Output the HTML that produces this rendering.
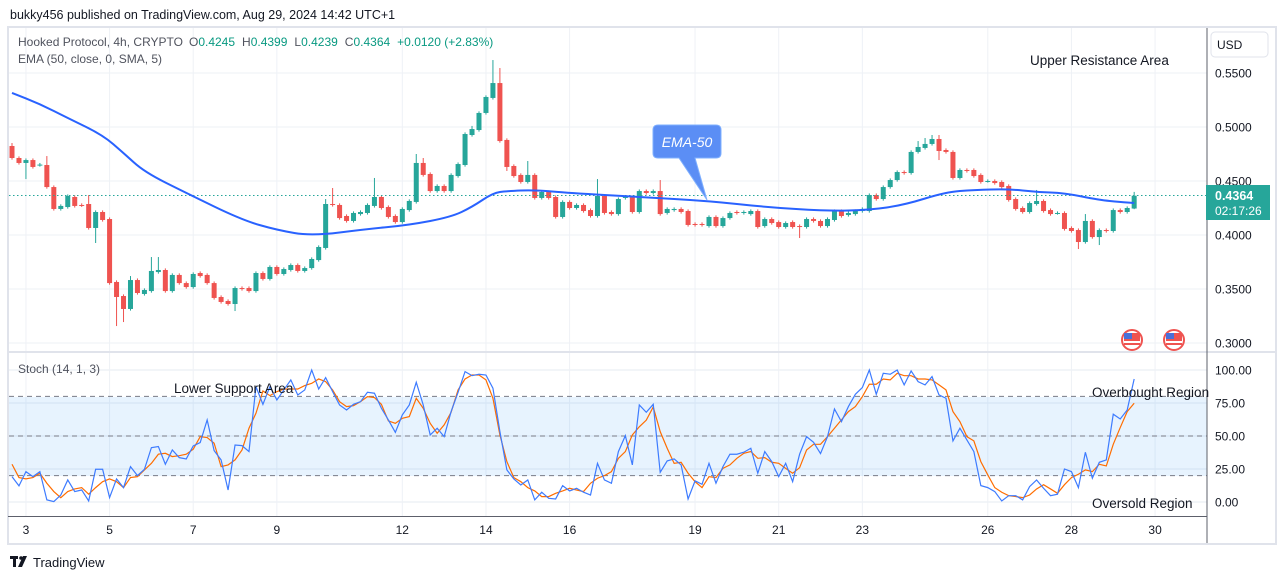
<!DOCTYPE html>
<html><head><meta charset="utf-8"><style>
html,body{margin:0;padding:0;background:#fff;width:1281px;height:579px;overflow:hidden}
svg{display:block;font-family:"Liberation Sans",sans-serif}
</style></head><body>
<svg id="c" width="1281" height="579" viewBox="0 0 1281 579" xmlns="http://www.w3.org/2000/svg">
<rect x="0" y="0" width="1281" height="579" fill="#fff"/>
<text x="10" y="19" font-size="12.5" fill="#131722">bukky456 published on TradingView.com, Aug 29, 2024 14:42 UTC+1</text>
<rect x="8" y="27" width="1268" height="517" fill="none" stroke="#e0e3eb" stroke-width="2"/>
<g id="grid"></g>
<rect x="9" y="397" width="1198" height="79" fill="#2196f3" fill-opacity="0.11"/>
<g id="stochlines"></g>
<line x1="8" y1="352" x2="1276" y2="352" stroke="#e0e3eb" stroke-width="2"/>
<line x1="1207" y1="28" x2="1207" y2="543" stroke="#5d606b" stroke-width="1"/>
<line x1="8" y1="516.5" x2="1207" y2="516.5" stroke="#5d606b" stroke-width="1"/>
<g id="candles"></g>
<line x1="9" y1="195.5" x2="1207" y2="195.5" stroke="#26a69a" stroke-width="1" stroke-dasharray="1.5,2.5"/>
<path id="ema" fill="none" stroke="#2962ff" stroke-width="2"/>
<polyline id="stochD" fill="none" stroke="#ff6d00" stroke-width="1.2"/>
<polyline id="stochK" fill="none" stroke="#3d7bff" stroke-width="1.2"/>
<g id="axes"></g>
<text x="18" y="46" font-size="12" fill="#131722"><tspan fill="#50535e">Hooked Protocol, 4h, CRYPTO</tspan><tspan fill="#50535e" dx="6">O</tspan><tspan fill="#089981">0.4245</tspan><tspan fill="#50535e" dx="7">H</tspan><tspan fill="#089981">0.4399</tspan><tspan fill="#50535e" dx="7">L</tspan><tspan fill="#089981">0.4239</tspan><tspan fill="#50535e" dx="7">C</tspan><tspan fill="#089981">0.4364</tspan><tspan fill="#089981" dx="7">+0.0120 (+2.83%)</tspan></text>
<text x="18" y="63" font-size="12" fill="#50535e">EMA (50, close, 0, SMA, 5)</text>
<text x="18" y="373" font-size="12" fill="#50535e">Stoch (14, 1, 3)</text>
<rect x="1211" y="32" width="57" height="25" rx="4" fill="#fff" stroke="#e0e3eb"/>
<text x="1217" y="49" font-size="12" fill="#131722">USD</text>
<text x="1030" y="65" font-size="13.5" fill="#131722">Upper Resistance Area</text>
<text x="174" y="393" font-size="13.5" fill="#131722">Lower Support Area</text>
<text x="1092" y="397" font-size="13.5" fill="#131722">Overbought Region</text>
<text x="1092" y="508" font-size="13.5" fill="#131722">Oversold Region</text>
<g>
<path d="M658,125 H716 Q721,125 721,130 V153 Q721,158 716,158 H695 L707,200 L679,158 H658 Q653,158 653,153 V130 Q653,125 658,125 Z" fill="#5b8ef5" stroke="#7fb0ff" stroke-width="1"/>
<text x="687" y="147" font-size="14" font-style="italic" fill="#fff" text-anchor="middle">EMA-50</text>
</g>
<g><circle cx="1132" cy="340" r="10" fill="#fff" stroke="#ef5350" stroke-width="2"/><rect x="1124" y="333" width="16" height="12" fill="#ef5350"/><rect x="1124" y="333" width="8" height="6" fill="#4a6fd8"/><rect x="1124" y="341" width="16" height="2" fill="#fff"/></g>
<g><circle cx="1174" cy="340" r="10" fill="#fff" stroke="#ef5350" stroke-width="2"/><rect x="1166" y="333" width="16" height="12" fill="#ef5350"/><rect x="1166" y="333" width="8" height="6" fill="#4a6fd8"/><rect x="1166" y="341" width="16" height="2" fill="#fff"/></g>
<rect x="1206" y="185" width="64" height="35" fill="#26a69a"/>
<text x="1215" y="200" font-size="12.5" font-weight="bold" fill="#fff">0.4364</text>
<text x="1215" y="215" font-size="12" fill="#fff">02:17:26</text>
<g><rect x="10" y="556" width="8" height="3" fill="#131722"/><rect x="13" y="556" width="3" height="11" fill="#131722"/><circle cx="21" cy="558" r="1.8" fill="#131722"/><path d="M23,556 H27 L22,567 H18 Z" fill="#131722"/></g>
<text x="33" y="567" font-size="13" fill="#131722">TradingView</text>
</svg>
<script>
const opens=[.4824,.4713,.4667,.4694,.4648,.4648,.4444,.4241,.4259,.4352,
.4278,.4287,.4065,.4213,.4148,.3565,.3435,.3315,.3583,.3454,
.3481,.3657,.3676,.3481,.3630,.3555,.3518,.3648,.3630,.3555,
.3426,.3389,.3361,.3509,.3509,.3481,.3648,.3593,.3704,.3639,
.3676,.3722,.3667,.3694,.3768,.3880,.4287,.4278,.4176,.4130,
.4194,.4204,.4269,.4352,.4259,.4176,.4120,.4231,.4306,.4667,
.4565,.4407,.4454,.4407,.4546,.4648,.4926,.4972,.5130,.5269,
.5407,.4880,.4639,.4556,.4491,.4556,.4343,.4398,.4352,.4167,
.4306,.4250,.4278,.4231,.4176,.4361,.4213,.4194,.4343,.4352,
.4213,.4407,.4389,.4407,.4204,.4231,.4241,.4222,.4102,.4102,
.4083,.4167,.4083,.4157,.4213,.4204,.4194,.4222,.4083,.4148,
.4120,.4074,.4120,.4083,.4074,.4148,.4130,.4083,.4139,.4222,
.4185,.4194,.4222,.4222,.4370,.4333,.4444,.4509,.4583,.4574,
.4769,.4806,.4843,.4889,.4787,.4769,.4528,.4602,.4602,.4556,
.4500,.4500,.4491,.4454,.4333,.4250,.4213,.4287,.4315,.4231,
.4204,.4204,.4065,.4046,.3935,.4130,.3981,.4046,.4037,.4231,
.4213,.4245];
const closes=[.4713,.4667,.4694,.4630,.4652,.4444,.4241,.4269,.4361,.4269,
.4275,.4065,.4213,.4139,.3555,.3426,.3315,.3583,.3463,.3491,
.3667,.3676,.3481,.3630,.3555,.3518,.3639,.3620,.3555,.3417,
.3380,.3361,.3509,.3500,.3481,.3648,.3593,.3704,.3639,.3685,
.3722,.3667,.3694,.3778,.3889,.4287,.4278,.4157,.4130,.4204,
.4213,.4278,.4352,.4250,.4167,.4120,.4241,.4315,.4667,.4556,
.4407,.4454,.4407,.4556,.4657,.4935,.4981,.5130,.5278,.5407,
.4870,.4630,.4546,.4491,.4556,.4343,.4398,.4343,.4167,.4306,
.4250,.4278,.4222,.4176,.4361,.4204,.4194,.4333,.4352,.4213,
.4407,.4389,.4407,.4194,.4241,.4241,.4213,.4093,.4093,.4093,
.4167,.4083,.4157,.4204,.4204,.4213,.4222,.4074,.4148,.4111,
.4074,.4111,.4074,.4074,.4148,.4130,.4083,.4148,.4222,.4176,
.4204,.4222,.4241,.4370,.4333,.4444,.4509,.4583,.4574,.4769,
.4815,.4843,.4889,.4778,.4769,.4528,.4602,.4593,.4546,.4491,
.4500,.4481,.4444,.4324,.4241,.4213,.4296,.4315,.4222,.4194,
.4204,.4056,.4037,.3935,.4130,.3981,.4046,.4037,.4231,.4213,
.4250,.4364];
const highs={0:.4852,5:.4731,11:.4370,17:.3620,20:.3796,21:.3796,45:.4333,46:.4435,52:.4528,58:.4750,59:.4713,66:.5010,69:.5620,70:.5546,74:.4685,84:.4518,93:.4509,130:.4870,131:.4898,132:.4926,133:.4926,147:.4417,154:.4194,161:.4399};
const lows={2:.4518,12:.3926,15:.3157,16:.3194,32:.3296,71:.4593,113:.3972,133:.4694,153:.3870,156:.3907,161:.4239};
const emaIdx=[0,4,8,13,16,19,25,33,38,43,51,57,63,66,69,71,75,80,90,100,108,117,123,128,134,138,143,147,151,156,159,161];
const emaVals=[.5315,.5213,.5083,.4926,.4759,.4583,.4389,.4139,.4046,.3991,.4056,.4093,.4167,.4259,.4389,.4407,.4417,.4389,.4352,.4315,.4259,.4222,.4231,.4278,.4398,.4417,.4426,.4398,.4389,.4324,.4306,.4296];
const stochK=[19.2,12.2,23,19.2,23,1.6,0.3,5.3,16.7,7.9,
9.1,0.8,24.8,24.8,3.3,17.5,10.9,26.8,20,24.8,
41.2,42,28.6,39.4,33.6,32.6,42.5,45,62.2,38.9,
31.9,9.1,43.2,42.7,38.2,87.4,74,87.4,77.3,84.9,
92.5,81.1,84.9,100,85.6,94.2,83.6,73.5,69.7,74,
76,83.1,82.4,71,62.2,52.8,66,73.5,90.7,73.5,
50.8,55.9,49.5,68.5,83.1,98.8,95.7,96.8,96.2,86.2,
53.3,24.3,17.5,12.9,16.7,1.6,7.4,2.8,2.3,12.4,
8.4,10.4,7.4,5.3,29.3,16.7,14.2,38.2,50.3,28.1,
73.5,68,74,22.5,31.1,32.6,28.1,2.3,16,13.4,
29.3,14.2,26.8,36.2,36.2,37.7,40.7,21.8,38.2,30.6,
19.2,29.3,15.4,36.2,49.5,45.2,36.7,49.5,70.5,60.9,
72.3,81.6,86.7,100,81.6,97.5,96.8,100,88.7,99.3,
91.2,88.7,95,81.1,78.6,46.3,55.9,47,38.2,12.4,
10.9,7.9,0.8,4.8,4.8,1.6,11.7,16.7,10.4,4.8,
5.9,25,23,10.9,37.7,18,30.1,31.9,66.5,62.9,
69.7,93.2];
const stochD=[28.6,18.5,17.5,18.5,21.8,14.2,7.9,3.3,7.9,9.9,
10.9,5.9,10.9,15.4,17.5,15.4,10.9,18.5,19.2,24.3,
29.3,36.2,36.9,34.4,35.1,36.2,40,49.5,48.8,44.5,
26.8,28.1,31.9,39.4,55.9,67.2,84.1,80.6,83.6,85.6,
85.6,85.6,88.2,89.9,93.2,91.2,84.9,76,72.3,73,
76,79.8,79.1,74,61.4,59.6,63.4,64.7,78.6,71,
59.6,52.1,58.4,68,84.9,93.2,96.2,96.2,92.5,78.6,
50.8,30.6,18.5,15.4,10.9,8.4,4.1,4.1,6.6,8.4,
10.4,9.1,7.9,14.2,18,20,23,33.1,38.2,50.8,
57,62,72,53.3,40.7,29.3,30.1,21.8,15.4,10.9,
19.2,18.5,25.5,28.1,33.1,36.9,38.2,33.1,33.6,30.1,
29.3,25.5,21.8,26,39.4,43.7,43.7,49.5,55.9,62.2,
68.5,72.3,79.8,89.2,89.2,93.2,92.5,97.5,95.7,95.7,
93.2,93.2,92.5,88.7,84.9,68.5,60.9,49.5,46.3,30.6,
20.5,10.9,7.4,4.8,4.1,3.3,5.3,9.9,13.1,9.9,
6.6,13.1,18.5,21,24.3,23,28.6,27.3,43.7,56.4,
68.5,74.8];
const priceTicks=[0.55,0.50,0.45,0.40,0.35,0.30];
const stochTicks=[100,75,50,25,0];
const dayLabels=["3","5","7","9","12","14","16","19","21","23","26","28","30"];
const dayIdx=[2,14,26,38,56,68,80,98,110,122,140,152,164];

const NS="http://www.w3.org/2000/svg";
const xOf=i=>12+i*6.97;
const yP=p=>73+(0.55-p)*1080;
const yS=v=>502-v*1.32;
function mk(tag,attrs,parent){const e=document.createElementNS(NS,tag);for(const k in attrs)e.setAttribute(k,attrs[k]);parent.appendChild(e);return e;}

const grid=document.getElementById('grid');
priceTicks.forEach(p=>{
  const l=mk('line',{x1:9,x2:1207,y1:yP(p),y2:yP(p),stroke:'#eef1f6','stroke-width':1},grid);
  
  
});
stochTicks.forEach(v=>{
  const l=mk('line',{x1:9,x2:1207,y1:yS(v),y2:yS(v),stroke:'#e6ebf2','stroke-width':1},grid);
  
  
});
dayIdx.forEach(i=>{
  const x=xOf(i);
  const l=mk('line',{x1:x,x2:x,y1:28,y2:516,stroke:'#eef1f6','stroke-width':1},grid);
  
  
});

const sl=document.getElementById('stochlines');
[80,50,20].forEach(v=>{
  const l=mk('line',{x1:9,x2:1207,y1:yS(v),y2:yS(v),stroke:'#787b86','stroke-width':1,'stroke-dasharray':'5,4'},sl);
  
  
});

const cg=document.getElementById('candles');
const n=Math.min(opens.length,closes.length);
for(let i=0;i<n;i++){
  const o=opens[i],c=closes[i];
  const up=c>=o;
  const col=up?'#26a69a':'#ef5350';
  const hi=highs[i]!==undefined?highs[i]:Math.max(o,c)+0.0015;
  const lo=lows[i]!==undefined?lows[i]:Math.min(o,c)-0.0015;
  const x=xOf(i);
  const g=mk('g',{},cg);
  
  
  mk('line',{x1:x,x2:x,y1:yP(hi),y2:yP(lo),stroke:col,'stroke-width':1},g);
  const top=yP(Math.max(o,c)),bot=yP(Math.min(o,c));
  mk('rect',{x:x-2.5,y:top,width:5,height:Math.max(1,bot-top),fill:col},g);
}

let d='';
emaIdx.forEach((i,k)=>{
  const x=xOf(i),y=yP(emaVals[k]);
  if(k===0){d='M'+x+','+y;}
  else{const px=xOf(emaIdx[k-1]),py=yP(emaVals[k-1]);d+=' Q'+px+','+py+' '+((px+x)/2)+','+((py+y)/2);}
});
d+=' L'+xOf(emaIdx[emaIdx.length-1])+','+yP(emaVals[emaVals.length-1]);
document.getElementById('ema').setAttribute('d',d);

document.getElementById('stochK').setAttribute('points',stochK.map((v,i)=>xOf(i)+','+yS(v)).join(' '));
document.getElementById('stochD').setAttribute('points',stochD.map((v,i)=>xOf(i)+','+yS(v)).join(' '));

const ax=document.getElementById('axes');
priceTicks.forEach(p=>{
  const t=mk('text',{x:1215,y:yP(p)+4.5,'font-size':12,fill:'#131722'},ax);
  t.textContent=p.toFixed(4);
  
  
});
stochTicks.forEach(v=>{
  const t=mk('text',{x:1215,y:yS(v)+4.5,'font-size':12,fill:'#131722'},ax);
  t.textContent=v.toFixed(2);
  
  
});
dayLabels.forEach((s,k)=>{
  const t=mk('text',{x:xOf(dayIdx[k]),y:534,'font-size':12,fill:'#131722','text-anchor':'middle'},ax);
  t.textContent=s;
  
  
});
</script>
</body></html>
